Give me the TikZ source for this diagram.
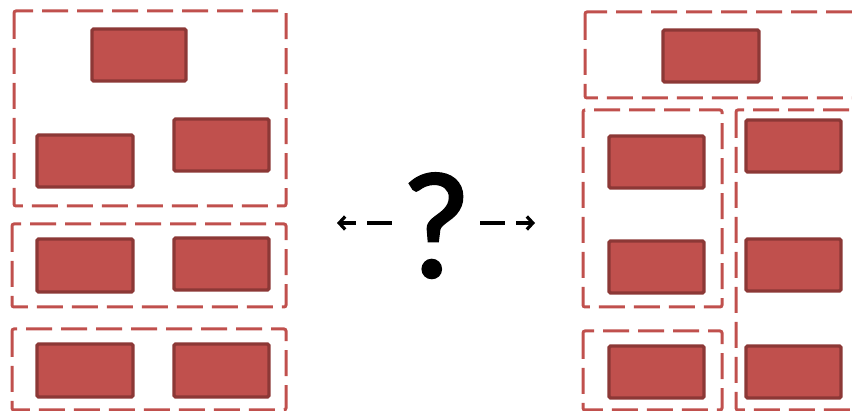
\documentclass[tikz,border=0pt]{standalone}
\usepackage{fontspec}
\newfontfamily\qfont[FakeBold=1.6]{Carlito}
\usetikzlibrary{arrows.meta}
\definecolor{boxred}{HTML}{C0504D}
\definecolor{boxedge}{HTML}{8C3836}

\begin{document}
\begin{tikzpicture}[x=1pt,y=-1pt,
  block/.style={fill=boxred,draw=boxedge,line width=3.2pt,rounded corners=1.5pt},
  group/.style={draw=boxred,line width=3pt,dash pattern=on 26pt off 9pt,rounded corners=2pt},
  guess/.style={line width=3.2pt,dash pattern=on 25pt off 11pt,-{Straight Barb[length=6pt,width=13pt]}}]
  \useasboundingbox (0,0) rectangle (852,411);
  \clip (0,0) rectangle (852,411);
  % left: three groups
  \draw[group] (14,11) rectangle (286,206);
  \draw[block] (92,29) rectangle (186,81);
  \draw[block] (37,135) rectangle (133,187);
  \draw[block] (174,119) rectangle (269,171);
  \draw[group] (12,224) rectangle (286,307);
  \draw[block] (37,239) rectangle (133,292);
  \draw[block] (174,238) rectangle (269,290);
  \draw[group] (12,329) rectangle (286,410);
  \draw[block] (37,344) rectangle (133,397);
  \draw[block] (174,344) rectangle (269,397);
  % the question
  \node[font=\qfont\fontsize{152}{152}\selectfont,anchor=base,inner xsep=9pt,inner ysep=0pt] (q) at (436,277) {?};
  \coordinate (lend) at (337,223);
  \coordinate (rend) at (535,223);
  \draw[guess] (q.west |- lend) -- (lend);
  \draw[guess] (q.east |- rend) -- (rend);
  % right: four groups
  \draw[group] (585,12) rectangle (880,98);
  \draw[block] (663,30) rectangle (759,82);
  \draw[group] (583,110) rectangle (722,307);
  \draw[block] (609,136) rectangle (704,188);
  \draw[block] (609,241) rectangle (704,293);
  \draw[group] (583,331) rectangle (722,410);
  \draw[block] (609,346) rectangle (704,398);
  \draw[group] (736,110) rectangle (880,410);
  \draw[block] (746,120) rectangle (841,172);
  \draw[block] (746,239) rectangle (841,291);
  \draw[block] (746,346) rectangle (841,398);
\end{tikzpicture}
\end{document}
